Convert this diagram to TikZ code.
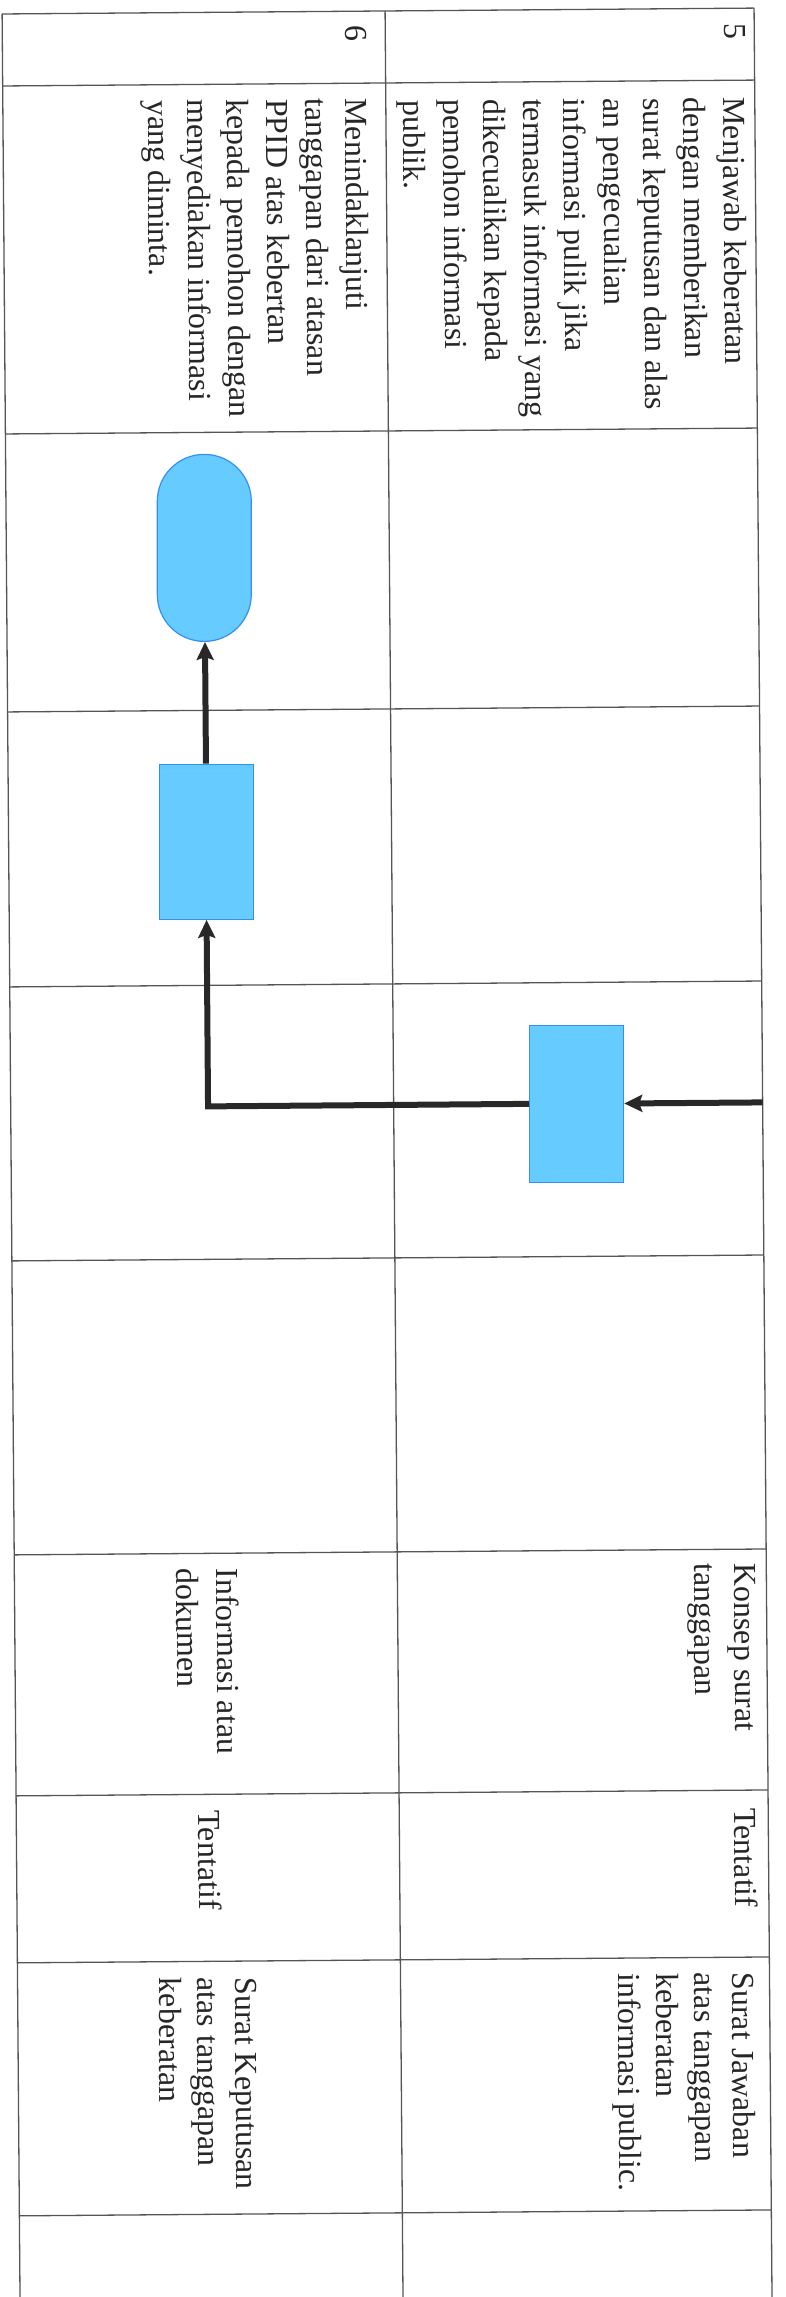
\documentclass[tikz,border=0pt]{standalone}
\usepackage{fontspec}
\setmainfont{Liberation Serif}
\usetikzlibrary{arrows.meta}
\definecolor{boxfill}{RGB}{102,204,255}
\definecolor{boxedge}{RGB}{51,144,240}
\definecolor{rulegray}{RGB}{85,85,85}
\definecolor{ink}{RGB}{40,40,40}

\begin{document}
\begin{tikzpicture}[x=1pt,y=-1pt,
    cell/.style={anchor=north west,rotate=-89.55,inner sep=0pt,align=left,
      font=\fontsize{32}{40}\selectfont,text=black!85},
    procbox/.style={draw=boxedge,fill=boxfill,line width=1.2pt,
      minimum width=94pt,minimum height=156pt,inner sep=0pt},
    endbox/.style={procbox,rounded corners=46.9pt,minimum height=187pt},
    flow/.style={draw=ink,line width=6pt,-{Stealth[length=18pt,width=17pt,inset=3pt]}}]
  \useasboundingbox (0,0) rectangle (785,2297);
  \begin{scope}[rotate=0.45]
    % table rules (the scan is slightly tilted)
    \foreach \y in {14,86,434,712,987,1261,1555,1796,1963,2216}
      \draw[rulegray,line width=1.3pt] (2,\y) -- (754,\y);
    \foreach \x in {2,385,754}
      \draw[rulegray,line width=1.3pt] (\x,14) -- (\x,2330);
    % flow shapes
    \node[endbox] (fin) at (200,549.5) {};
    \node[procbox,minimum height=155pt] (ppid) at (200,843.5) {};
    \node[procbox,minimum height=157pt] (atasan) at (568,1108.5) {};
    \coordinate (masuk) at (754,1108.5);
    \draw[flow] (masuk) -- (atasan);
    \draw[flow] (atasan.west) -| (ppid.south);
    \draw[flow] (ppid) -- (fin);
    % row 5
    \node[cell] (no5) at (745,29) {5};
    \node[cell] (act5) at (745,103) {Menjawab keberatan\\dengan memberikan\\surat keputusan dan alas\\an pengecualian\\informasi pulik jika\\termasuk informasi yang\\dikecualikan kepada\\pemohon informasi\\publik.};
    \node[cell] (in5) at (743,1569) {Konsep surat\\tanggapan};
    \node[cell] (tm5) at (743,1814) {Tentatif};
    \node[cell,font=\fontsize{32}{38}\selectfont] (out5) at (739,1978) {Surat Jawaban\\atas tanggapan\\keberatan\\informasi public.};
    % row 6
    \node[cell] (no6) at (367,28) {6};
    \node[cell,font=\fontsize{32}{39.5}\selectfont] (act6) at (367,101) {Menindaklanjuti\\tanggapan dari atasan\\PPID atas kebertan\\kepada pemohon dengan\\menyediakan informasi\\yang diminta.};
    \node[cell] (in6) at (227,1570) {Informasi atau\\dokumen};
    \node[cell] (tm6) at (207,1812) {Tentatif};
    \node[cell,font=\fontsize{32}{38}\selectfont] (out6) at (241,1979) {Surat Keputusan\\atas tanggapan\\keberatan};
  \end{scope}
\end{tikzpicture}
\end{document}
